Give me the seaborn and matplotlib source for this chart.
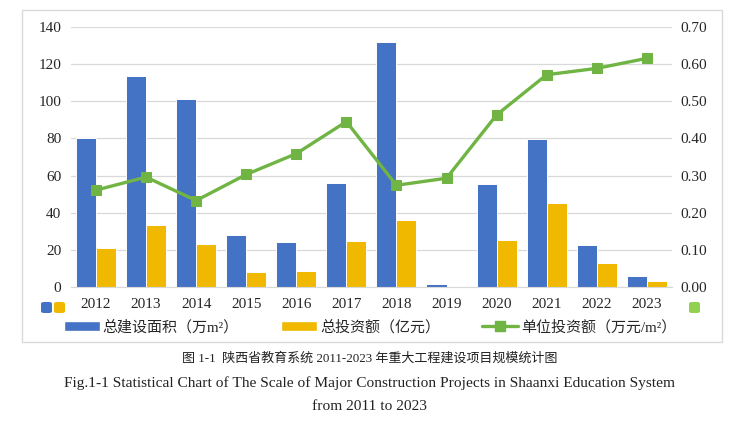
import numpy as np
import pandas as pd
import seaborn as sns
import matplotlib.pyplot as plt
from matplotlib.patches import Patch, Rectangle, FancyBboxPatch
from matplotlib.lines import Line2D

# data
years = ['2012', '2013', '2014', '2015', '2016', '2017',
         '2018', '2019', '2020', '2021', '2022', '2023']
area = [80.4, 113.7, 101.0, 27.9, 24.2, 56.2, 131.8, 1.8, 55.3, 79.7, 22.6, 6.1]
invest = [21.0, 33.5, 23.4, 8.2, 8.6, 25.0, 36.2, 0.7, 25.4, 45.5, 13.1, 3.4]
unit = [0.261, 0.296, 0.233, 0.303, 0.359, 0.445, 0.274, 0.293, 0.463, 0.571, 0.588, 0.615]

area_label = '总建设面积（万m²）'
invest_label = '总投资额（亿元）'
unit_label = '单位投资额（万元/m²）'
caption_cn = '图 1-1  陕西省教育系统 2011-2023 年重大工程建设项目规模统计图'
caption_en1 = 'Fig.1-1 Statistical Chart of The Scale of Major Construction Projects in Shaanxi Education System'
caption_en2 = 'from 2011 to 2023'

blue = '#4472C4'
gold = '#F0B900'
green = '#70B544'

sns.set_style('white')
plt.rcParams['font.family'] = ['Liberation Serif', 'Noto Sans CJK SC', 'DejaVu Sans']

df = pd.DataFrame({
    'year': years * 2,
    'value': area + invest,
    'series': [area_label] * len(years) + [invest_label] * len(years),
})

fig = plt.figure(figsize=(7.4, 4.21), dpi=100)
ax = fig.add_axes([0.0959, 0.3176, 0.812, 0.619])

sns.barplot(data=df, x='year', y='value', hue='series', ax=ax,
            palette=[blue, gold], saturation=1, width=0.8,
            edgecolor='white', linewidth=0.7, legend=False)
ax.set_xlim(-0.5, 11.5)
ax.set_ylim(0, 140)
ax.set_yticks(np.arange(0, 141, 20))
ax.set_xlabel('')
ax.set_ylabel('')
ax.grid(axis='y', color='#d9d9d9', linewidth=0.9)
ax.set_axisbelow(True)
for s in ['top', 'left', 'right']:
    ax.spines[s].set_visible(False)
ax.spines['bottom'].set_color('#d9d9d9')
ax.tick_params(axis='both', length=0, labelsize=11, colors='#262626')
ax.tick_params(axis='x', pad=8)
ax.tick_params(axis='y', pad=7)

ax2 = ax.twinx()
sns.lineplot(x=np.arange(len(years)), y=unit, ax=ax2, color=green, linewidth=2.4,
             marker='s', markersize=7, markeredgecolor=green)
ax2.set_ylim(0, 0.70)
ax2.set_yticks(np.arange(0, 0.71, 0.1))
ax2.set_yticklabels(['%.2f' % v for v in np.arange(0, 0.71, 0.1)])
for s in ['top', 'left', 'right', 'bottom']:
    ax2.spines[s].set_visible(False)
ax2.tick_params(axis='y', length=0, labelsize=11, colors='#262626', pad=6)

# legend below the plot
handles = [Patch(facecolor=blue), Patch(facecolor=gold),
           Line2D([0], [0], color=green, linewidth=2.4, marker='s', markersize=7)]
fig.legend(handles, [area_label, invest_label, unit_label], loc='center',
           bbox_to_anchor=(0.5, 1 - 327 / 421), ncol=3, frameon=False,
           prop={'size': 10.8}, handlelength=2.4, handleheight=0.7,
           handletextpad=0.2, columnspacing=2.8)

# small stray legend keys seen in the reference
W, H = 740, 421
for x0, col in [(41, blue), (54, gold), (689, '#92D050')]:
    fig.patches.append(FancyBboxPatch((x0 / W, 1 - 313 / H), 11 / W, 11 / H,
                                      boxstyle='round,pad=0,rounding_size=0.004',
                                      transform=fig.transFigure, facecolor=col,
                                      edgecolor='none'))

# chart area border
fig.patches.append(Rectangle((22 / W, 1 - 342 / H), 700 / W, 332 / H,
                             transform=fig.transFigure, fill=False,
                             edgecolor='#d9d9d9', linewidth=1))

fig.text(0.5, 1 - 358 / H, caption_cn, ha='center', va='center', fontsize=9.4,
         color='#222222')
fig.text(0.5, 1 - 383 / H, caption_en1, ha='center', va='center', fontsize=11.1,
         color='#222222')
fig.text(0.5, 1 - 406 / H, caption_en2, ha='center', va='center', fontsize=11.1,
         color='#222222')

fig.savefig('out.png', dpi=100)
